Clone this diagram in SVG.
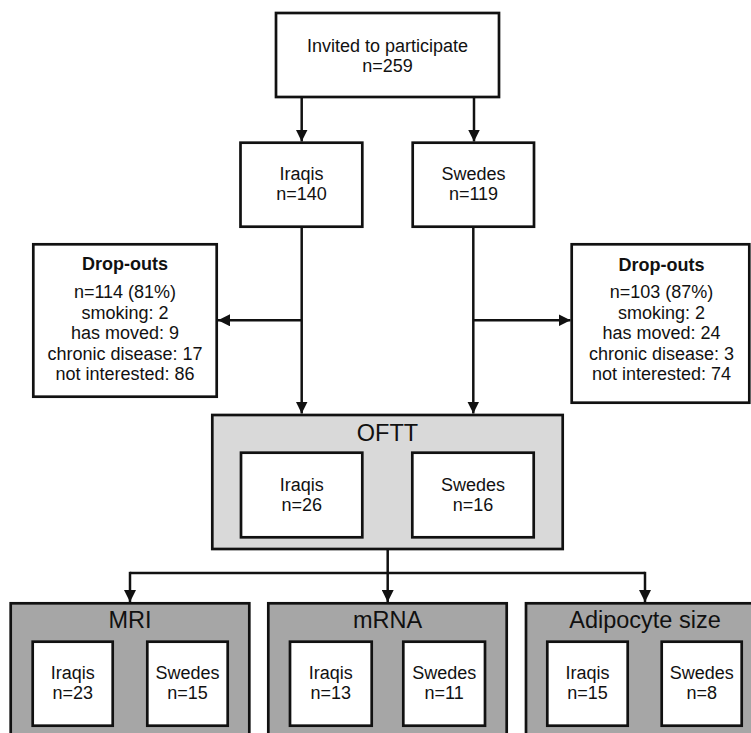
<svg xmlns="http://www.w3.org/2000/svg" width="751" height="733" viewBox="0 0 751 733">
<defs>
<style>
.box{fill:#fff;stroke:#111;stroke-width:2.7}
.g1{fill:#d9d9d9;stroke:#111;stroke-width:2.7}
.g2{fill:#a6a6a6;stroke:#111;stroke-width:2.7}
.t{font-family:"Liberation Sans",Arial,sans-serif;font-size:18px;fill:#111;text-anchor:middle}
.h{font-family:"Liberation Sans",Arial,sans-serif;font-size:23.5px;fill:#111;text-anchor:middle}
.b{font-weight:bold}
.c{fill:none;stroke:#111;stroke-width:2.5}
</style>
<marker id="ah" markerUnits="userSpaceOnUse" markerWidth="12" markerHeight="12" viewBox="0 0 10 10" refX="10" refY="5" orient="auto">
<path d="M0,0 L10,5 L0,10 Z" fill="#111"/>
</marker>
</defs>
<rect width="751" height="733" fill="#fff"/>
<g id="connectors">
<path class="c" d="M301.7,97 V141.5" marker-end="url(#ah)"/>
<path class="c" d="M474,97 V141.5" marker-end="url(#ah)"/>
<path class="c" d="M301.7,227 V413.5" marker-end="url(#ah)"/>
<path class="c" d="M473.3,227 V413.5" marker-end="url(#ah)"/>
<path class="c" d="M301.7,320.3 H218" marker-end="url(#ah)"/>
<path class="c" d="M473.3,320.3 H570.5" marker-end="url(#ah)"/>
<path class="c" d="M387.7,549 V573 M130,573 H645"/>
<path class="c" d="M130,571.8 V602" marker-end="url(#ah)"/>
<path class="c" d="M387.7,573 V602" marker-end="url(#ah)"/>
<path class="c" d="M645,571.8 V602" marker-end="url(#ah)"/>
</g>
<g id="invited">
<rect class="box" x="276" y="13" width="223" height="84"/>
<text class="t" x="387.5" y="52">Invited to participate</text>
<text class="t" x="387.5" y="72">n=259</text>
</g>
<g id="iraqis">
<rect class="box" x="240.5" y="142.7" width="121.8" height="84"/>
<text class="t" x="301.5" y="180">Iraqis</text>
<text class="t" x="301.5" y="200">n=140</text>
</g>
<g id="swedes">
<rect class="box" x="412.7" y="142.7" width="121.3" height="84"/>
<text class="t" x="473.5" y="180">Swedes</text>
<text class="t" x="473.5" y="200">n=119</text>
</g>
<g id="dropouts-left">
<rect class="box" x="33.3" y="244.3" width="183.4" height="152.4"/>
<text class="t b" x="125" y="270">Drop-outs</text>
<text class="t" x="125" y="298.3">n=114 (81%)</text>
<text class="t" x="125" y="318.8">smoking: 2</text>
<text class="t" x="125" y="339.2">has moved: 9</text>
<text class="t" x="125" y="359.5">chronic disease: 17</text>
<text class="t" x="125" y="380">not interested: 86</text>
</g>
<g id="dropouts-right">
<rect class="box" x="571.7" y="244.3" width="177.6" height="158.4"/>
<text class="t b" x="661.5" y="270.5">Drop-outs</text>
<text class="t" x="661.5" y="298.3">n=103 (87%)</text>
<text class="t" x="661.5" y="318.8">smoking: 2</text>
<text class="t" x="661.5" y="339.2">has moved: 24</text>
<text class="t" x="661.5" y="359.5">chronic disease: 3</text>
<text class="t" x="661.5" y="380">not interested: 74</text>
</g>
<g id="oftt">
<rect class="g1" x="212.3" y="415" width="350.4" height="134"/>
<text class="h" x="387.5" y="440.7">OFTT</text>
<rect class="box" x="241" y="452.7" width="121.3" height="84.6"/>
<text class="t" x="301.7" y="490.7">Iraqis</text>
<text class="t" x="301.7" y="510.7">n=26</text>
<rect class="box" x="412.3" y="452.7" width="121.4" height="84.6"/>
<text class="t" x="473" y="490.7">Swedes</text>
<text class="t" x="473" y="510.7">n=16</text>
</g>
<g id="mri">
<rect class="g2" x="10.7" y="603.3" width="238.6" height="140"/>
<text class="h" x="130" y="628.3">MRI</text>
<rect class="box" x="32.7" y="641.7" width="80" height="84"/>
<text class="t" x="72.7" y="679.3">Iraqis</text>
<text class="t" x="72.7" y="699.3">n=23</text>
<rect class="box" x="147.3" y="641.7" width="80.4" height="84"/>
<text class="t" x="187.5" y="679.3">Swedes</text>
<text class="t" x="187.5" y="699.3">n=15</text>
</g>
<g id="mrna">
<rect class="g2" x="268.3" y="603.3" width="238.4" height="140"/>
<text class="h" x="387.5" y="628.3">mRNA</text>
<rect class="box" x="290" y="641.7" width="81.7" height="84"/>
<text class="t" x="330.8" y="679.3">Iraqis</text>
<text class="t" x="330.8" y="699.3">n=13</text>
<rect class="box" x="403.3" y="641.7" width="81.7" height="84"/>
<text class="t" x="444.2" y="679.3">Swedes</text>
<text class="t" x="444.2" y="699.3">n=11</text>
</g>
<g id="adipocyte">
<rect class="g2" x="526" y="603.3" width="238" height="140"/>
<text class="h" x="645" y="628.3">Adipocyte size</text>
<rect class="box" x="547.3" y="641.7" width="80.4" height="84"/>
<text class="t" x="587.5" y="679.3">Iraqis</text>
<text class="t" x="587.5" y="699.3">n=15</text>
<rect class="box" x="661.7" y="641.7" width="80" height="84"/>
<text class="t" x="701.7" y="679.3">Swedes</text>
<text class="t" x="701.7" y="699.3">n=8</text>
</g>
</svg>
